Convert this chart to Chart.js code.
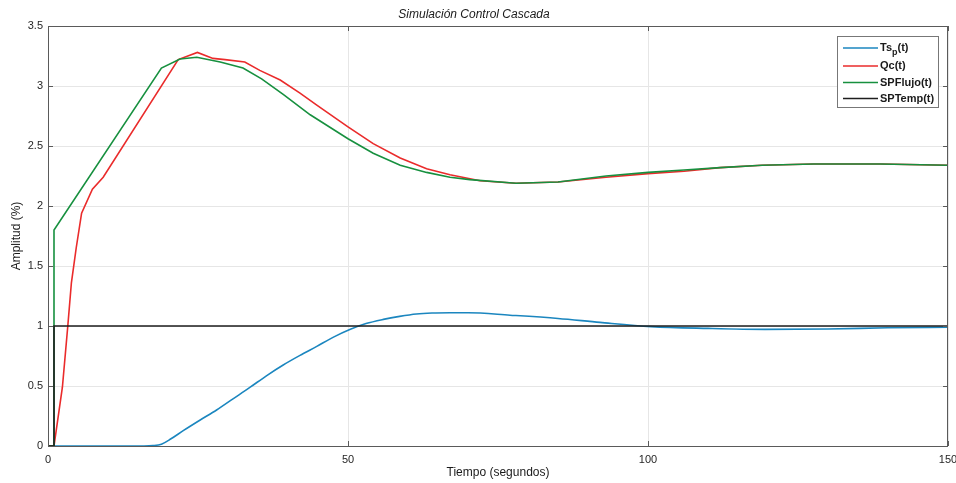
<!DOCTYPE html>
<html>
<head>
<meta charset="utf-8">
<title>Simulación Control Cascada</title>
<script src="https://cdn.jsdelivr.net/npm/chart.js@4.4.0/dist/chart.umd.min.js"></script>
<style>
  html, body { margin: 0; padding: 0; background: #fff; }
  #caja { width: 956px; height: 483px; }
</style>
</head>
<body>
<div id="caja"><canvas id="graficoCascada"></canvas></div>
<script>
// Temperatura del proceso Ts_p(t)
var tiempoTs = [0, 16, 17.5, 18.9, 20.5, 22.6, 25.3, 28.1, 30.9, 33.7, 36.4, 39.2, 42, 44.8, 47.5, 50.3, 53, 55.9, 58.6, 61.4, 64, 67, 70, 77, 85, 92, 100.5, 110, 119.5, 130, 140, 150];
var valoresTs = [0, 0, 0.003, 0.015, 0.06, 0.13, 0.215, 0.30, 0.395, 0.49, 0.585, 0.675, 0.755, 0.83, 0.905, 0.97, 1.02, 1.055, 1.08, 1.10, 1.108, 1.11, 1.11, 1.09, 1.063, 1.03, 0.995, 0.98, 0.972, 0.975, 0.985, 0.99];

// Caudal Qc(t)
var tiempoQc = [0, 1, 2.4, 3.3, 3.9, 4.7, 5.6, 7.4, 9.2, 21.7, 24.9, 27.5, 29.5, 32.8, 35.3, 38.7, 42, 44.8, 50, 54.2, 58.7, 63.1, 67, 72, 78, 85, 93, 100, 106, 112, 119, 127.6, 138.7, 150];
var valoresQc = [0, 0, 0.49, 1.0, 1.36, 1.65, 1.94, 2.14, 2.24, 3.22, 3.28, 3.23, 3.22, 3.20, 3.13, 3.05, 2.94, 2.84, 2.66, 2.52, 2.40, 2.31, 2.26, 2.21, 2.19, 2.20, 2.24, 2.27, 2.29, 2.32, 2.34, 2.35, 2.35, 2.34];

// Consigna del lazo de flujo
var tiempoFlujo = [0, 1, 1, 18.9, 22, 24.8, 28.7, 32.5, 35.6, 39.2, 43.7, 50, 54.2, 58.7, 63.1, 67, 70.3, 78, 85, 93, 100, 106, 112, 119, 127.6, 138.7, 150];
var valoresFlujo = [0, 0, 1.8, 3.15, 3.225, 3.24, 3.20, 3.15, 3.06, 2.93, 2.76, 2.56, 2.44, 2.34, 2.28, 2.24, 2.22, 2.19, 2.20, 2.25, 2.28, 2.30, 2.32, 2.34, 2.35, 2.35, 2.34];

// Consigna de temperatura (escalón)
var tiempoTemp = [0, 1, 1, 150];
var valoresTemp = [0, 0, 1, 1];

var ticksX = [0, 50, 100, 150];
var ticksY = [0, 0.5, 1, 1.5, 2, 2.5, 3, 3.5];

var fuente = "'Liberation Sans', Arial, sans-serif";

function puntos(ts, ys) {
  return ts.map(function (t, i) { return { x: t, y: ys[i] }; });
}

function serie(label, ts, ys, color, orden) {
  return {
    label: label,
    data: puntos(ts, ys),
    borderColor: color,
    backgroundColor: color,
    borderWidth: 1.6,
    pointRadius: 0,
    tension: 0,
    fill: false,
    clip: false,
    order: orden,
  };
}

// marco de los ejes, marcas hacia dentro y leyenda
var marcoEjes = {
  id: "marcoEjes",
  afterDatasetsDraw: function (chart) {
    var ctx = chart.ctx;
    var a = chart.chartArea;
    var sx = chart.scales.x;
    var sy = chart.scales.y;
    ctx.save();
    ctx.strokeStyle = "#5a5a5a";
    ctx.lineWidth = 1;
    ctx.strokeRect(a.left + 0.5, a.top + 0.5, a.right - a.left - 1, a.bottom - a.top);
    ctx.beginPath();
    ticksX.forEach(function (v) {
      var px = Math.round(sx.getPixelForValue(v)) + 0.5;
      ctx.moveTo(px, a.bottom); ctx.lineTo(px, a.bottom - 5);
      ctx.moveTo(px, a.top); ctx.lineTo(px, a.top + 5);
    });
    ticksY.forEach(function (v) {
      var py = Math.round(sy.getPixelForValue(v)) + 0.5;
      ctx.moveTo(a.left, py); ctx.lineTo(a.left + 5, py);
      ctx.moveTo(a.right, py); ctx.lineTo(a.right - 5, py);
    });
    ctx.stroke();

    // leyenda
    var bx = a.right - 111, by = a.top + 10, bw = 101, bh = 71;
    ctx.fillStyle = "#fff";
    ctx.fillRect(bx, by, bw, bh);
    ctx.strokeStyle = "#777";
    ctx.strokeRect(bx + 0.5, by + 0.5, bw, bh);
    var filas = [12, 30, 46.5, 62.5];
    chart.data.datasets.forEach(function (ds, i) {
      var y = by + filas[i];
      ctx.strokeStyle = ds.borderColor;
      ctx.lineWidth = 1.6;
      ctx.beginPath();
      ctx.moveTo(bx + 6, y); ctx.lineTo(bx + 41, y);
      ctx.stroke();
      ctx.fillStyle = "#1a1a1a";
      ctx.textBaseline = "middle";
      ctx.textAlign = "left";
      var x = bx + 43;
      var partes = ds.label.split("_");
      ctx.font = "bold 11px " + fuente;
      ctx.fillText(partes[0], x, y);
      if (partes.length > 1) {
        x += ctx.measureText(partes[0]).width;
        ctx.font = "bold 9px " + fuente;
        ctx.fillText(partes[1].charAt(0), x, y + 5);
        x += ctx.measureText(partes[1].charAt(0)).width;
        ctx.font = "bold 11px " + fuente;
        ctx.fillText(partes[1].slice(1), x, y);
      }
    });
    ctx.restore();
  },
};

var datosTs = serie("Ts_p(t)", tiempoTs, valoresTs, "#1b86bf", 4);
datosTs.cubicInterpolationMode = "monotone";

var config = {
  type: "line",
  data: {
    datasets: [
      datosTs,
      serie("Qc(t)", tiempoQc, valoresQc, "#ea2b2b", 3),
      serie("SPFlujo(t)", tiempoFlujo, valoresFlujo, "#17903f", 2),
      serie("SPTemp(t)", tiempoTemp, valoresTemp, "#1e1e1e", 1),
    ],
  },
  options: {
    responsive: true,
    maintainAspectRatio: false,
    animation: false,
    layout: { padding: { left: 0, right: 8, top: 0, bottom: 0 } },
    plugins: {
      legend: { display: false },
      tooltip: { enabled: false },
      title: {
        display: true,
        text: "Simulación Control Cascada",
        color: "#1a1a1a",
        font: { family: fuente, size: 12, style: "italic", weight: "normal", lineHeight: 1.2 },
        padding: { top: 7, bottom: 4.6 },
      },
    },
    scales: {
      x: {
        type: "linear",
        min: 0,
        max: 150,
        afterBuildTicks: function (s) { s.ticks = ticksX.map(function (v) { return { value: v }; }); },
        afterFit: function (s) { s.height = 37; s.paddingRight = 0; },
        border: { display: false },
        grid: { color: "#e6e6e6", drawTicks: false },
        ticks: {
          color: "#262626", padding: 7, maxRotation: 0,
          font: { family: fuente, size: 11 },
          callback: function (v) { return String(v); },
        },
        title: {
          display: true,
          text: "Tiempo (segundos)",
          color: "#1a1a1a",
          font: { family: fuente, size: 12, lineHeight: 1.2 },
          padding: { top: 0, bottom: 2.8 },
        },
      },
      y: {
        type: "linear",
        min: 0,
        max: 3.5,
        afterBuildTicks: function (s) { s.ticks = ticksY.map(function (v) { return { value: v }; }); },
        afterFit: function (s) { s.width = 48; },
        border: { display: false },
        grid: { color: "#e6e6e6", drawTicks: false },
        ticks: {
          color: "#262626", padding: 5,
          font: { family: fuente, size: 11 },
          callback: function (v) { return String(v); },
        },
        title: {
          display: true,
          text: "Amplitud (%)",
          color: "#1a1a1a",
          font: { family: fuente, size: 12, lineHeight: 1.2 },
          padding: { top: 9, bottom: 0 },
        },
      },
    },
  },
  plugins: [marcoEjes],
};

var graficoCascada = new Chart(document.getElementById("graficoCascada"), config);
</script>
</body>
</html>
